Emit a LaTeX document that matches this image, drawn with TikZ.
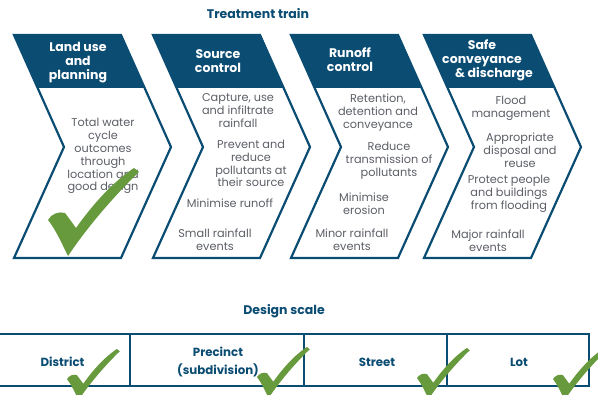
\documentclass[tikz,border=0pt]{standalone}
\usepackage{fontspec}
\setmainfont{Poppins}
\definecolor{navy}{HTML}{0B4C73}
\definecolor{bodygrey}{HTML}{5B5F66}
\definecolor{ckgreen}{HTML}{67993D}
\tikzset{
  headtxt/.style={text=white, font=\bfseries\fontsize{12.5}{14.2}\selectfont, align=center, inner sep=0pt},
  bodytxt/.style={text=bodygrey, font=\fontsize{11.3}{12.9}\selectfont, align=center, inner sep=0pt},
  titletxt/.style={text=navy, font=\bfseries\fontsize{12.5}{14}\selectfont, inner sep=0pt},
  chevline/.style={draw=navy, line width=2.2pt, line join=miter},
  cell/.style={draw=navy, line width=2pt, minimum height=52pt, inner sep=0pt},
  celltxt/.style={text=navy, font=\bfseries\fontsize{11.8}{18}\selectfont, align=center, inner sep=0pt},
  greentick/.pic={
    \fill[ckgreen] (0,0) .. controls (-6,-12) and (-12,-26) .. (-20,-36)
      .. controls (-17,-42) and (-9,-45) .. (-3,-43)
      .. controls (1,-38) and (5,-32) .. (8,-28)
      .. controls (25,-52) and (45,-74) .. (66,-88)
      -- (71,-84)
      .. controls (48,-62) and (20,-30) .. cycle;
  }
}
\begin{document}
\begin{tikzpicture}[x=1pt,y=-1pt]
\useasboundingbox (0,0) rectangle (598,395);
\clip (0,0) rectangle (598,395);

% titles
\node[titletxt] (ttrain) at (258,14) {Treatment train};
\node[titletxt] (tscale) at (284,311) {Design scale};

% chevrons: filled heading band plus outlined body
\foreach \x in {14,153,291,424} {
  \fill[navy] (\x,35) -- ++(107,0) -- ++(23.7,53) -- ++(-107,0) -- cycle;
  \draw[chevline] (\x,35) -- ++(107,0) -- ++(50,112) -- ++(-50,111)
    -- ++(-107,0) -- ++(50,-111) -- cycle;
}

% headings
\node[headtxt] (h1) at (78,62.5) {Land use\\and\\planning};
\node[headtxt] (h2) at (218,61) {Source\\control};
\node[headtxt] (h3) at (350,59.5) {Runoff\\control};
\node[headtxt] (h4) at (482,60.5) {Safe\\conveyance\\\hspace*{24pt}\& discharge};

% land use and planning
\node[bodytxt] (b1) at (103,156) {Total water\\cycle\\outcomes\\through\\location and\\good design};

% source control
\node[bodytxt] (b2a) at (238,110.5) {Capture, use\\and infiltrate\\rainfall};
\node[bodytxt] (b2b) at (251,163.5) {Prevent and\\reduce\\pollutants at\\their source};
\node[bodytxt] (b2c) at (230,203.5) {Minimise runoff};
\node[bodytxt] (b2d) at (215,239.5) {Small rainfall\\events};

% runoff control
\node[bodytxt] (b3a) at (378,112.5) {Retention,\\detention and\\conveyance};
\node[bodytxt] (b3b) at (389,160.5) {Reduce\\transmission of\\pollutants};
\node[bodytxt] (b3c) at (364,204) {Minimise\\erosion};
\node[bodytxt] (b3d) at (352,240) {Minor rainfall\\events};

% safe conveyance and discharge
\node[bodytxt] (b4a) at (511,108) {Flood\\management};
\node[bodytxt] (b4b) at (520,150) {Appropriate\\disposal and\\reuse};
\node[bodytxt] (b4c) at (509,193.5) {Protect people\\and buildings\\from flooding};
\node[bodytxt] (b4d) at (488,241) {Major rainfall\\events};

% design scale row
\node[cell, minimum width=135pt] (district) at (62.5,360) {};
\node[cell, minimum width=174pt] (precinct) at (217,360) {};
\node[cell, minimum width=143pt] (street) at (375.5,360) {};
\node[cell, minimum width=142pt] (lot) at (518,360) {};
\node[celltxt] (tdistrict) at (62.5,362) {District};
\node[celltxt] (tprecinct) at (218,362.5) {Precinct\\(subdivision)};
\node[celltxt] (tstreet) at (377,362) {Street};
\node[celltxt] (tlot) at (519,362) {Lot};

% ticks
\pic at (68,256) {greentick};
\pic[scale=0.58] at (78.6,400) {greentick};
\pic[scale=0.58] at (268.6,398) {greentick};
\pic[scale=0.58] at (428.6,399) {greentick};
\pic[scale=0.58] at (564.6,400) {greentick};
\end{tikzpicture}
\end{document}
